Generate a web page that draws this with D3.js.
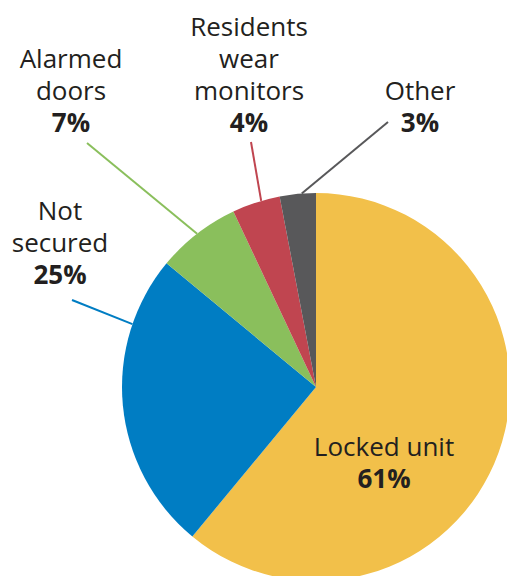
<!DOCTYPE html>
<html><head><meta charset="utf-8">
<script src="https://cdn.jsdelivr.net/npm/d3@7"></script>
<style>html,body{margin:0;padding:0;background:#fff;overflow:hidden}</style>
</head><body>
<svg id="c" width="507" height="576"></svg>
<script>
const categories = ["Locked unit", "Not secured", "Alarmed doors", "Residents wear monitors", "Other"];
const values = [61, 25, 7, 4, 3];
const colors = ["#F2C04A", "#007DC3", "#8ABF5C", "#C04550", "#58585A"];
// label layout: text lines, text anchor position, leader-line outer end, position within slice (t)
const labelLines = [["Locked unit"], ["Not", "secured"], ["Alarmed", "doors"], ["Residents", "wear", "monitors"], ["Other"]];
const labelPos = [[384, 456], [60, 220], [71, 68], [249, 36], [420, 100]];
const leaderEnd = [null, [72, 300], [87, 143], [251, 142], [388, 122]];
const leaderT = [null, 0.77, 0.5, 0.61, 0.61];

const cx = 316, cy = 387, R = 194;
const svg = d3.select("#c");
const g = svg.append("g").attr("transform", `translate(${cx},${cy})`);
const pie = d3.pie().sort(null).value(d => d)(values);
const arc = d3.arc().innerRadius(0).outerRadius(R);
g.selectAll("path.s").data(pie).join("path").attr("class","s")
  .attr("d", arc).attr("fill", (d,i) => colors[i]);

// leader lines
pie.forEach((d,i) => {
  if (!leaderEnd[i]) return;
  const a = d.startAngle + (d.endAngle - d.startAngle) * leaderT[i];
  const x1 = cx + R * Math.sin(a), y1 = cy - R * Math.cos(a);
  svg.append("line").attr("x1", x1).attr("y1", y1)
    .attr("x2", leaderEnd[i][0]).attr("y2", leaderEnd[i][1])
    .attr("stroke", colors[i]).attr("stroke-width", 2);
});

const font = "'Open Sans', 'Noto Sans', sans-serif";
const lh = 32;
categories.forEach((c,i) => {
  const [x, y] = labelPos[i];
  const t = svg.append("text").attr("x", x).attr("y", y).attr("text-anchor", "middle")
    .attr("font-family", font).attr("font-size", 26).attr("fill", "#231F20");
  labelLines[i].forEach((ln, k) => {
    t.append("tspan").attr("x", x).attr("y", y + k*lh).text(ln);
  });
  t.append("tspan").attr("x", x).attr("y", y + labelLines[i].length*lh)
    .attr("font-weight", "bold").text(values[i] + "%");
});
</script>
</body></html>
